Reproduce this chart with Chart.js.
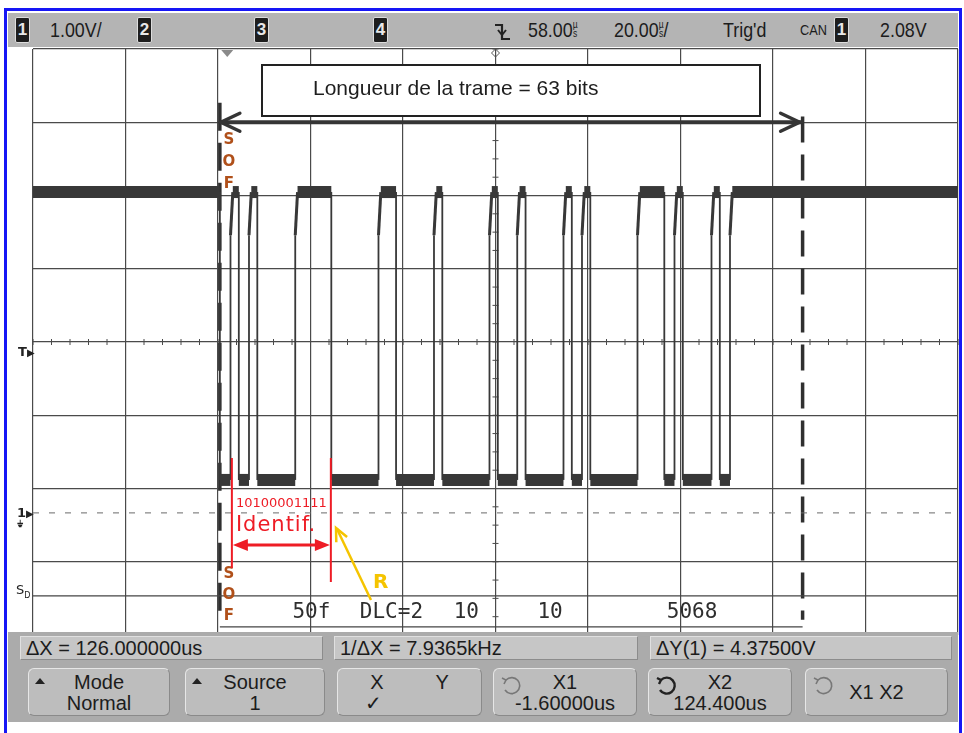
<!DOCTYPE html>
<html>
<head>
<meta charset="utf-8">
<script src="https://cdn.jsdelivr.net/npm/chart.js@4.4.1/dist/chart.umd.min.js"></script>
<style>
html,body{margin:0;padding:0;background:#fff;}
#wrap{position:relative;width:964px;height:733px;overflow:hidden;background:#fff;font-family:"Liberation Sans",Arial,sans-serif;color:#1c1c1c;}
#frame{position:absolute;left:4px;top:8px;width:958px;height:760px;border:3px solid #1616f5;box-sizing:border-box;z-index:5;pointer-events:none;}
#scope{position:absolute;left:0;top:0;}
#status{position:absolute;left:8px;top:13px;width:950px;height:34px;background:#b4b4b4;z-index:3;}
.chip{position:absolute;top:4px;width:13px;height:24px;background:#1e1e1e;color:#e8e8e8;border:1px solid #ddd;border-radius:2px;font:bold 17px "Liberation Sans",sans-serif;text-align:center;line-height:24px;}
.st{position:absolute;top:5px;font-size:21px;line-height:24px;white-space:nowrap;transform:scaleX(.85);transform-origin:left center;}
.us{display:inline-block;font-size:10px;line-height:9px;vertical-align:top;margin-top:2px;text-align:center;}
#bottom{position:absolute;left:8px;top:632px;width:950px;height:90px;background:#ababab;z-index:3;}
.rd{position:absolute;top:4px;height:24px;background:#c6c6c6;border:1px solid #8c8c8c;border-top-color:#e0e0e0;border-left-color:#e0e0e0;box-sizing:border-box;font-size:20px;line-height:23px;padding-left:5px;white-space:nowrap;}
.key{position:absolute;top:36px;height:48px;background:#bdbdbd;border:1px solid #8a8a8a;border-top-color:#e6e6e6;border-left-color:#e6e6e6;border-radius:6px;box-sizing:border-box;font-size:20px;line-height:21px;text-align:center;}
.key .l1{position:absolute;left:0;right:0;top:3px;}
.key .l2{position:absolute;left:0;right:0;top:24px;}
.tri{position:absolute;left:6px;top:9px;width:0;height:0;border-left:5px solid transparent;border-right:5px solid transparent;border-bottom:6px solid #222;}
.side{position:absolute;font:bold 13px "DejaVu Sans",sans-serif;color:#222;}
</style>
</head>
<body>
<div id="wrap">
  <canvas id="scope" width="964" height="733"></canvas>

  <div id="status">
    <div class="chip" style="left:7px">1</div>
    <div class="st" style="left:42px">1.00V/</div>
    <div class="chip" style="left:129px">2</div>
    <div class="chip" style="left:246px">3</div>
    <div class="chip" style="left:365px">4</div>
    <svg style="position:absolute;left:484px;top:6px" width="22" height="24" viewBox="0 0 22 24">
      <path d="M3 6 H10 V20 H18" fill="none" stroke="#222" stroke-width="2.2"/>
      <path d="M6 11 L10 16 L14 11" fill="none" stroke="#222" stroke-width="2"/>
    </svg>
    <div class="st" style="left:520px">58.00<span class="us">µ<br>s</span></div>
    <div class="st" style="left:606px">20.00<span class="us">µ<br>s</span>/</div>
    <div class="st" style="left:715px">Trig'd</div>
    <div class="st" style="left:792px;font-size:15px">CAN</div>
    <div class="chip" style="left:826px">1</div>
    <div class="st" style="left:872px">2.08V</div>
  </div>

  <div class="side" style="left:18px;top:344px">T<span style="font-size:10px">▶</span></div>
  <div class="side" style="left:17px;top:505px">1<span style="font-size:10px">▶</span></div>
  <div class="side" style="left:17px;top:519px;font-size:9px">⏚</div>
  <div class="side" style="left:16px;top:582px;font-weight:normal">S<sub style="font-size:8px">D</sub></div>

  <div id="bottom">
    <div class="rd" style="left:12px;width:303px">ΔX = 126.000000us</div>
    <div class="rd" style="left:326px;width:304px">1/ΔX = 7.9365kHz</div>
    <div class="rd" style="left:642px;width:302px">ΔY(1) = 4.37500V</div>

    <div class="key" style="left:20px;width:142px"><span class="tri"></span><div class="l1">Mode</div><div class="l2">Normal</div></div>
    <div class="key" style="left:177px;width:140px"><span class="tri"></span><div class="l1">Source</div><div class="l2">1</div></div>
    <div class="key" style="left:329px;width:145px"><div class="l1"><span style="margin-right:52px">X</span>Y</div><div class="l2" style="margin-left:-72px">✓</div></div>
    <div class="key" style="left:485px;width:144px">
      <svg style="position:absolute;left:6px;top:6px" width="24" height="22" viewBox="0 0 24 22"><path d="M6 5 A8 8 0 1 1 5 15" fill="none" stroke="#777" stroke-width="1.6"/><path d="M2 3 L6 5 L4 9" fill="none" stroke="#777" stroke-width="1.6"/></svg>
      <div class="l1">X1</div><div class="l2">-1.60000us</div></div>
    <div class="key" style="left:640px;width:144px">
      <svg style="position:absolute;left:6px;top:6px" width="24" height="22" viewBox="0 0 24 22"><path d="M6 5 A8 8 0 1 1 5 15" fill="none" stroke="#222" stroke-width="2.4"/><path d="M2 3 L6 5 L4 9" fill="none" stroke="#222" stroke-width="2.4"/></svg>
      <div class="l1">X2</div><div class="l2">124.400us</div></div>
    <div class="key" style="left:797px;width:143px">
      <svg style="position:absolute;left:6px;top:6px" width="24" height="22" viewBox="0 0 24 22"><path d="M6 5 A8 8 0 1 1 5 15" fill="none" stroke="#777" stroke-width="1.6"/><path d="M2 3 L6 5 L4 9" fill="none" stroke="#777" stroke-width="1.6"/></svg>
      <div class="l1" style="top:13px">X1 X2</div></div>
  </div>

  <div id="frame"></div>
</div>

<script>
// ---- Scope settings: 20 µs/div, 58 µs delay; 1 V/div ----
const X_MIN = -42, X_MAX = 158;
const V_MIN = -1.667, V_MAX = 6.333;
const H_DIVS = 10, V_DIVS = 8;

// ---- CAN frame captured on channel 1 (0 = dominant, 1 = recessive) ----
const frameBits = [
  0,
  1,0,1,0,0,0,0,1,1,1,1,
  0,0,0,0,0,1,
  1,0,0,0,0,1,
  0,0,0,0,0,1,0,0,1,0,0,0,0,1,0,1,0,0,0,0,0,1,1,1,0,1,0,0,0,1,0,
  1,1,1,1,1,1,1,1
];
const bitTimeUs = 2.0;
const sofTimeUs = -1.6;
const busLevelsV = [0.45, 4.38];          // dominant, recessive
const cursorTimesUs = [-1.6, 124.4];      // X1, X2
const identifierBits = '10100001111';
const decodeFields = ['50f', 'DLC=2', '10', '10', '5068'];
const decodeCentersUs = [18.2, 35.5, 51.7, 69.8, 100.5];

// edge timing of the transceiver output
const FALL_LAG = 0.1, RISE_LAG = 0.3, RISE_TIME = 0.5;

function busTrace() {
  const [lo, hi] = busLevelsV;
  const pts = [{x: X_MIN, y: hi}];
  let prev = 1;
  frameBits.forEach((b, k) => {
    if (b === prev) return;
    const t = sofTimeUs + k * bitTimeUs;
    if (b === 0) {
      const tf = k === 0 ? t : t + FALL_LAG;
      pts.push({x: tf, y: hi}, {x: tf, y: lo});
    } else {
      pts.push({x: t + RISE_LAG, y: lo},
               {x: t + RISE_LAG, y: lo + 0.85 * (hi - lo)},
               {x: t + RISE_LAG + RISE_TIME, y: hi});
    }
    prev = b;
  });
  pts.push({x: X_MAX, y: prev ? hi : lo});
  return pts;
}

const divTicks = (min, max, n) => Array.from({length: n + 1}, (_, i) => ({value: min + i * (max - min) / n}));

const LANE_TOP_V = -1.133, LANE_BOT_V = -1.556, ARROW_V = V_MAX - 1;

function line(ctx, x1, y1, x2, y2) { ctx.beginPath(); ctx.moveTo(x1, y1); ctx.lineTo(x2, y2); ctx.stroke(); }
function head(ctx, x, y, ang, len, half, filled) {
  const bx = x - Math.cos(ang) * len, by = y - Math.sin(ang) * len;
  const nx = -Math.sin(ang) * half, ny = Math.cos(ang) * half;
  ctx.beginPath(); ctx.moveTo(bx + nx, by + ny); ctx.lineTo(x, y); ctx.lineTo(bx - nx, by - ny);
  if (filled) { ctx.closePath(); ctx.fill(); } else ctx.stroke();
}

const scopeMarks = {
  id: 'scopeMarks',
  beforeDatasetsDraw(chart) {
    const {ctx, chartArea: ca, scales: {x, y}} = chart;
    const cx = x.getPixelForValue((X_MIN + X_MAX) / 2), cy = y.getPixelForValue((V_MIN + V_MAX) / 2);
    ctx.save();
    ctx.strokeStyle = '#4a4a4a'; ctx.lineWidth = 1;
    for (let i = 0; i <= H_DIVS * 5; i++) { const px = ca.left + i * ca.width / (H_DIVS * 5); line(ctx, px, cy - 3, px, cy + 3); }
    for (let i = 0; i <= V_DIVS * 4; i++) { const py = ca.top + i * ca.height / (V_DIVS * 4); line(ctx, cx - 3, py, cx + 3, py); }
    // trigger position and delay reference markers
    const tx = x.getPixelForValue(0);
    ctx.fillStyle = '#8a8a8a';
    ctx.beginPath(); ctx.moveTo(tx - 6, ca.top + 1); ctx.lineTo(tx + 6, ca.top + 1); ctx.lineTo(tx, ca.top + 8); ctx.closePath(); ctx.fill();
    ctx.strokeStyle = '#555';
    ctx.beginPath(); ctx.moveTo(cx, ca.top); ctx.lineTo(cx + 4, ca.top + 4); ctx.lineTo(cx, ca.top + 8); ctx.lineTo(cx - 4, ca.top + 4); ctx.closePath(); ctx.stroke();
    // decode lane labels
    ctx.fillStyle = '#2e2e2e'; ctx.font = '21px "DejaVu Sans Mono", monospace';
    ctx.textAlign = 'center'; ctx.textBaseline = 'middle';
    const laneMid = (y.getPixelForValue(LANE_TOP_V) + y.getPixelForValue(LANE_BOT_V)) / 2;
    decodeFields.forEach((s, i) => ctx.fillText(s, x.getPixelForValue(decodeCentersUs[i]), laneMid + 1));
    ctx.restore();
  },
  afterDatasetsDraw(chart) {
    const {ctx, scales: {x, y}} = chart;
    const x1 = x.getPixelForValue(cursorTimesUs[0]), x2 = x.getPixelForValue(cursorTimesUs[1]);
    const ya = y.getPixelForValue(ARROW_V);
    ctx.save();
    // frame length arrow heads
    ctx.strokeStyle = '#353535'; ctx.lineWidth = 3.5; ctx.lineCap = 'round';
    head(ctx, x1 + 1, ya, Math.PI, 19, 9, false);
    head(ctx, x2 - 3, ya, 0, 19, 9, false);
    // caption box
    ctx.fillStyle = '#fff'; ctx.fillRect(262, 65, 498, 51);
    ctx.strokeStyle = '#222'; ctx.lineWidth = 2; ctx.strokeRect(262, 65, 498, 51);
    ctx.fillStyle = '#1e1e1e'; ctx.font = '21px "Liberation Sans", Arial, sans-serif';
    ctx.textAlign = 'left'; ctx.textBaseline = 'middle';
    ctx.fillText('Longueur de la trame = 63 bits', 313, 89);
    // SOF labels
    ctx.fillStyle = '#b0501a'; ctx.font = 'bold 15px "DejaVu Sans", sans-serif'; ctx.textAlign = 'center';
    const sx = x1 + 9;
    [['S', 140], ['O', 162], ['F', 184], ['S', 574], ['O', 595], ['F', 616]].forEach(([c, py]) => ctx.fillText(c, sx, py));
    // identifier span
    const r1 = x.getPixelForValue(1.0), r2 = x.getPixelForValue(sofTimeUs + 12 * bitTimeUs);
    ctx.strokeStyle = '#ee1c25'; ctx.fillStyle = '#ee1c25'; ctx.lineWidth = 2; ctx.lineCap = 'butt';
    line(ctx, r1, 458, r1, 568); line(ctx, r2, 458, r2, 582);
    ctx.lineWidth = 3; line(ctx, r1 + 8, 545, r2 - 8, 545);
    head(ctx, r1 + 1, 545, Math.PI, 15, 6, true); head(ctx, r2 - 1, 545, 0, 15, 6, true);
    ctx.textAlign = 'left'; ctx.textBaseline = 'alphabetic';
    ctx.font = '13px "DejaVu Sans", sans-serif'; ctx.fillText(identifierBits, r1 + 4, 507);
    ctx.font = '21px "DejaVu Sans", sans-serif';
    if ('letterSpacing' in ctx) ctx.letterSpacing = '1px';
    ctx.fillText('Identif.', r1 + 4, 531);
    if ('letterSpacing' in ctx) ctx.letterSpacing = '0px';
    // RTR marker
    ctx.fillStyle = '#f5c400'; ctx.strokeStyle = '#f5c400';
    ctx.font = 'bold 20px "DejaVu Sans", sans-serif'; ctx.fillText('R', 373, 588);
    ctx.lineWidth = 2.5; line(ctx, 371, 600, 337, 529);
    head(ctx, 336, 528, Math.atan2(528 - 600, 336 - 371), 13, 6, false);
    ctx.restore();
  }
};

new Chart(document.getElementById('scope'), {
  type: 'scatter',
  data: {
    datasets: [
      { // channel 1 ground reference
        data: [{x: X_MIN, y: 0}, {x: X_MAX, y: 0}],
        showLine: true, borderColor: '#6a6a6a', borderWidth: 1, borderDash: [6, 10], pointRadius: 0
      },
      { // serial decode lane borders
        data: [{x: X_MIN, y: LANE_TOP_V}, {x: X_MAX, y: LANE_TOP_V}],
        showLine: true, borderColor: '#444', borderWidth: 1.3, pointRadius: 0
      },
      {
        data: [{x: cursorTimesUs[0], y: LANE_BOT_V}, {x: cursorTimesUs[1], y: LANE_BOT_V}],
        showLine: true, borderColor: '#444', borderWidth: 1.3, pointRadius: 0
      },
      { // bus trace
        data: busTrace(),
        showLine: true, borderColor: '#383838', pointRadius: 0, tension: 0,
        borderCapStyle: 'butt', borderJoinStyle: 'miter',
        segment: {
          borderWidth: c => c.p0.parsed.y === c.p1.parsed.y ? 12 : (c.p0.parsed.x === c.p1.parsed.x ? 1.8 : 3)
        }
      },
      { // cursor X1
        data: [{x: cursorTimesUs[0], y: 5.6}, {x: cursorTimesUs[0], y: -1.49}],
        showLine: true, borderColor: '#303030', borderWidth: 3.5, borderDash: [28, 12], pointRadius: 0
      },
      { // cursor X2
        data: [{x: cursorTimesUs[1], y: 5.41}, {x: cursorTimesUs[1], y: -1.46}],
        showLine: true, borderColor: '#303030', borderWidth: 3.5, borderDash: [26, 12], pointRadius: 0
      },
      { // frame length span
        data: [{x: cursorTimesUs[0], y: ARROW_V}, {x: cursorTimesUs[1], y: ARROW_V}],
        showLine: true, borderColor: '#353535', borderWidth: 4, pointRadius: 0
      }
    ]
  },
  options: {
    responsive: false, animation: false, devicePixelRatio: 1,
    layout: {padding: {left: 33, top: 49, right: 6, bottom: 98}},
    plugins: {legend: {display: false}, tooltip: {enabled: false}},
    scales: {
      x: {
        type: 'linear', min: X_MIN, max: X_MAX,
        afterBuildTicks: s => { s.ticks = divTicks(X_MIN, X_MAX, H_DIVS); },
        ticks: {display: false}, border: {display: false},
        grid: {color: '#4a4a4a', lineWidth: 1.2, drawTicks: false}
      },
      y: {
        type: 'linear', min: V_MIN, max: V_MAX,
        afterBuildTicks: s => { s.ticks = divTicks(V_MIN, V_MAX, V_DIVS); },
        ticks: {display: false}, border: {display: false},
        grid: {color: '#4a4a4a', lineWidth: 1.2, drawTicks: false}
      }
    }
  },
  plugins: [scopeMarks]
});
</script>
</body>
</html>
